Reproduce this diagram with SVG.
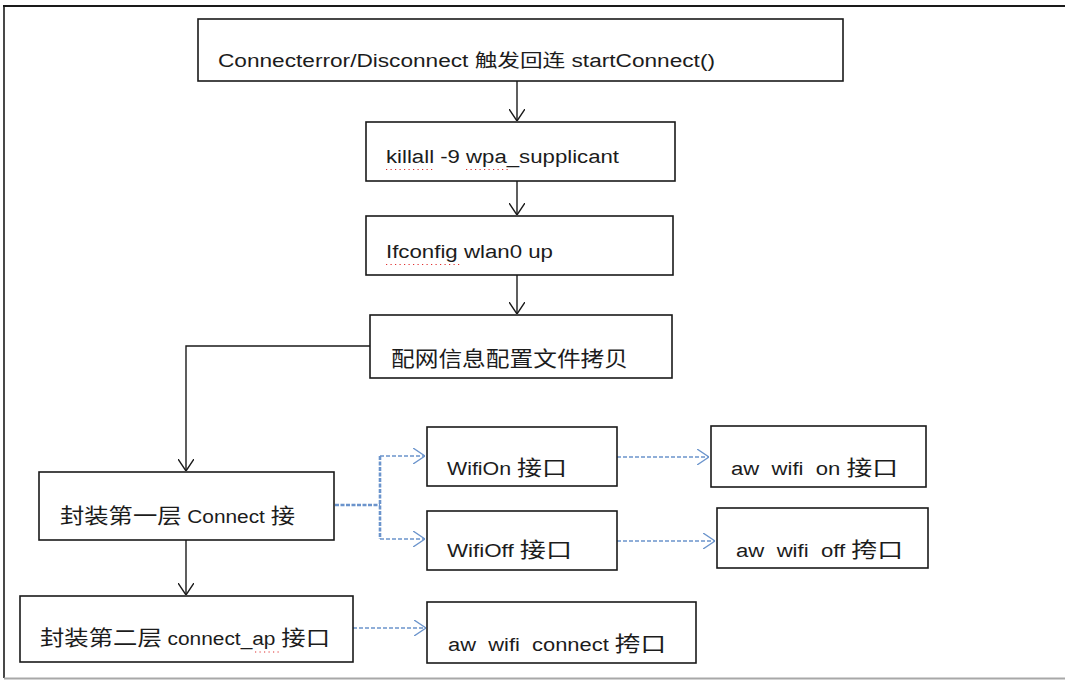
<svg xmlns="http://www.w3.org/2000/svg" width="1065" height="680" viewBox="0 0 1065 680">
  <style>
    .box { fill: #ffffff; stroke: #1a1a1a; stroke-width: 1.6; }
    .lbl { font-family: "Liberation Sans", "Noto Sans CJK SC", sans-serif; font-size: 18px; fill: #1c1c1c; }
    .cjk { font-family: "Noto Sans CJK SC", sans-serif; font-size: 21px; fill: #1c1c1c; }
    .flow { fill: none; stroke: #1a1a1a; stroke-width: 1.4; marker-end: url(#arrowBlack); }
    .call { fill: none; stroke: #6b94cc; stroke-width: 1.6; stroke-dasharray: 4 2; marker-end: url(#arrowBlue); }
    .trunk { fill: none; stroke: #6b94cc; stroke-width: 2.6; stroke-dasharray: 4 1.5; }
    .spell { stroke: #e03030; stroke-width: 1.2; stroke-dasharray: 1.2 3.3; }
  </style>
  <defs>
    <marker id="arrowBlack" viewBox="0 0 12 16" refX="12" refY="8" markerWidth="12" markerHeight="16" markerUnits="userSpaceOnUse" orient="auto">
      <path d="M0,0 L12,8 L0,16" fill="none" stroke="#1a1a1a" stroke-width="1.4"/>
    </marker>
    <marker id="arrowBlue" viewBox="0 0 12 16" refX="12" refY="8" markerWidth="12" markerHeight="16" markerUnits="userSpaceOnUse" orient="auto">
      <path d="M0,0 L12,8 L0,16" fill="none" stroke="#6b94cc" stroke-width="1.4"/>
    </marker>
  </defs>

  <rect width="1065" height="680" fill="#ffffff"/>
  <!-- page frame -->
  <g id="frame">
    <line x1="3" y1="6" x2="1065" y2="6" stroke="#1a1a1a" stroke-width="2"/>
    <line x1="4" y1="5" x2="4" y2="678" stroke="#1a1a1a" stroke-width="1.6"/>
    <line x1="4" y1="678.5" x2="1065" y2="678.5" stroke="#a8a8a8" stroke-width="2"/>
  </g>

  <!-- connectors -->
  <g id="connectors">
    <path class="flow" d="M517,81 V121"/>
    <path class="flow" d="M517,181 V215"/>
    <path class="flow" d="M517,275 V314"/>
    <path class="flow" d="M370,346 H186 V471"/>
    <path class="flow" d="M186,540 V595"/>
    <path class="trunk" d="M335,505 H380 M380,456 V539"/>
    <path class="call" d="M380,456 H425"/>
    <path class="call" d="M380,539 H425"/>
    <path class="call" d="M617,457 H709"/>
    <path class="call" d="M617,541 H715"/>
    <path class="call" d="M353,628 H426"/>
  </g>

  <g id="node-reconnect">
    <rect class="box" x="198" y="19" width="645" height="62"/>
    <text class="lbl" x="218" y="67" textLength="497" lengthAdjust="spacingAndGlyphs">Connecterror/Disconnect 触发回连 startConnect()</text>
  </g>

  <g id="node-killall">
    <rect class="box" x="366" y="122" width="309" height="59"/>
    <text class="lbl" x="386" y="163" textLength="233" lengthAdjust="spacingAndGlyphs">killall -9 wpa_supplicant</text>
    <line class="spell" x1="386" y1="169.5" x2="435" y2="169.5"/>
    <line class="spell" x1="466" y1="169.5" x2="508" y2="169.5"/>
  </g>

  <g id="node-ifconfig">
    <rect class="box" x="366" y="216" width="307" height="59"/>
    <text class="lbl" x="386" y="258" textLength="167" lengthAdjust="spacingAndGlyphs">Ifconfig wlan0 up</text>
    <line class="spell" x1="386" y1="264.5" x2="460" y2="264.5"/>
  </g>

  <g id="node-config-copy">
    <rect class="box" x="370" y="315" width="302" height="63"/>
    <text class="cjk" x="391" y="366" textLength="237" lengthAdjust="spacingAndGlyphs">配网信息配置文件拷贝</text>
  </g>

  <g id="node-connect-layer1">
    <rect class="box" x="39" y="472" width="295" height="68"/>
    <text class="lbl" x="60" y="523" textLength="235" lengthAdjust="spacingAndGlyphs"><tspan class="cjk">封装第一层</tspan> Connect <tspan class="cjk">接</tspan></text>
  </g>

  <g id="node-connect-layer2">
    <rect class="box" x="20" y="596" width="333" height="66"/>
    <text class="lbl" x="40" y="645" textLength="290" lengthAdjust="spacingAndGlyphs"><tspan class="cjk">封装第二层</tspan> connect_ap <tspan class="cjk">接口</tspan></text>
    <line class="spell" x1="255" y1="652" x2="282" y2="652"/>
  </g>

  <g id="node-wifi-on">
    <rect class="box" x="427" y="427" width="190" height="59"/>
    <text class="lbl" x="447" y="475" textLength="120" lengthAdjust="spacingAndGlyphs">WifiOn <tspan class="cjk">接口</tspan></text>
  </g>

  <g id="node-wifi-off">
    <rect class="box" x="427" y="511" width="190" height="59"/>
    <text class="lbl" x="447" y="557" textLength="125" lengthAdjust="spacingAndGlyphs">WifiOff <tspan class="cjk">接口</tspan></text>
  </g>

  <g id="node-aw-wifi-on">
    <rect class="box" x="711" y="426" width="215" height="61"/>
    <text class="lbl" x="731" y="475" textLength="167" lengthAdjust="spacingAndGlyphs" xml:space="preserve">aw  wifi  on <tspan class="cjk">接口</tspan></text>
  </g>

  <g id="node-aw-wifi-off">
    <rect class="box" x="717" y="508" width="211" height="60"/>
    <text class="lbl" x="736" y="557" textLength="167" lengthAdjust="spacingAndGlyphs" xml:space="preserve">aw  wifi  off <tspan class="cjk">挎口</tspan></text>
  </g>

  <g id="node-aw-wifi-connect">
    <rect class="box" x="427" y="602" width="269" height="61"/>
    <text class="lbl" x="448" y="651" textLength="218" lengthAdjust="spacingAndGlyphs" xml:space="preserve">aw  wifi  connect <tspan class="cjk">挎口</tspan></text>
  </g>
</svg>
